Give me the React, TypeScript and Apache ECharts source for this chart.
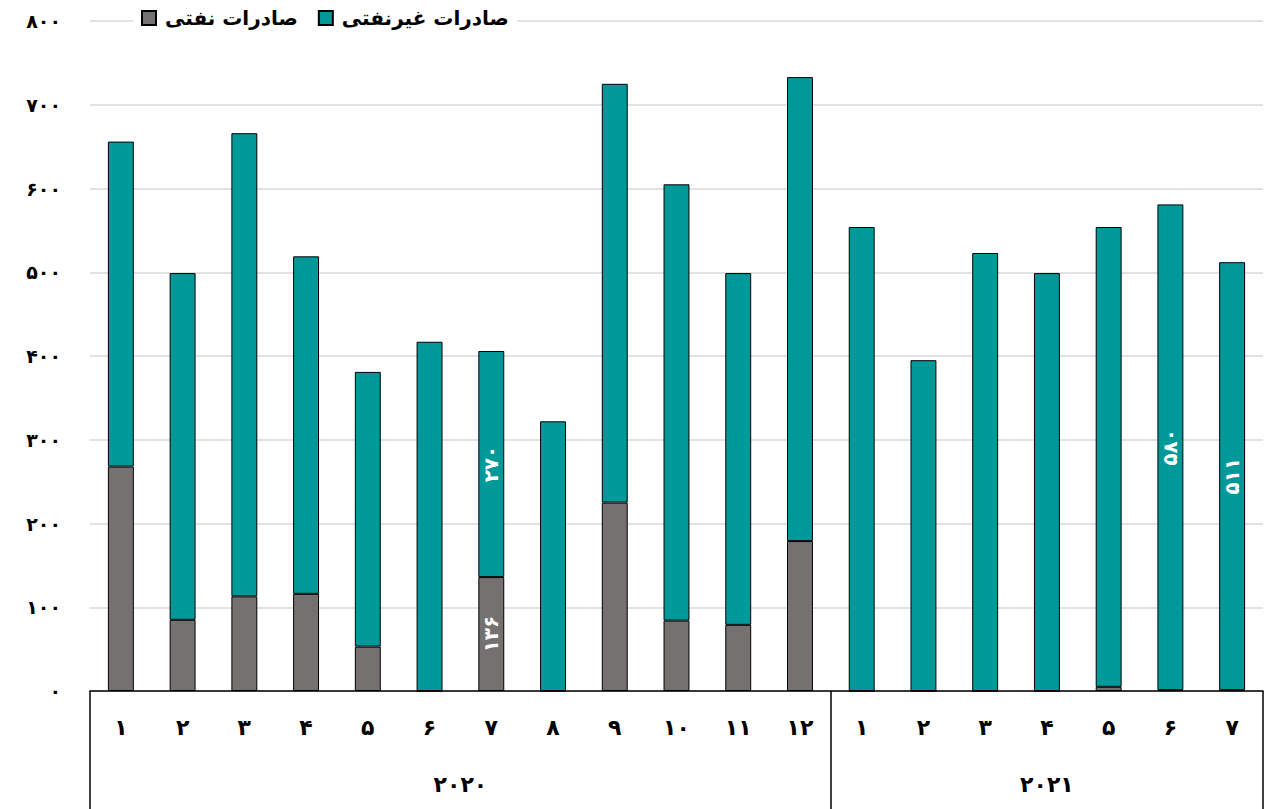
import React, { useEffect, useRef } from "react";
import * as echarts from "echarts";

const years = ["2020", "2021"];
const monthsPerYear = [12, 7];
const categories = [
  "2020-1", "2020-2", "2020-3", "2020-4", "2020-5", "2020-6", "2020-7", "2020-8", "2020-9", "2020-10", "2020-11", "2020-12",
  "2021-1", "2021-2", "2021-3", "2021-4", "2021-5", "2021-6", "2021-7",
];
const oilExports = [268, 85, 113, 116, 53, 0, 136, 0, 225, 84, 79, 179, 0, 0, 0, 0, 5, 1, 1];
const nonOilExports = [388, 414, 553, 403, 328, 417, 270, 322, 500, 521, 420, 554, 554, 395, 523, 499, 549, 580, 511];
const labelledOil = [6];
const labelledNonOil = [6, 17, 18];
const seriesNames = ["صادرات نفتی", "صادرات غیرنفتی"];
const yTicks = [0, 100, 200, 300, 400, 500, 600, 700, 800];

const fa = (v: string | number) => String(v).replace(/\d/g, (d) => "۰۱۲۳۴۵۶۷۸۹"[+d]);
const FONT = "DejaVu Sans";

export default function App() {
  const ref = useRef<HTMLDivElement>(null);
  useEffect(() => {
    if (!ref.current) return;
    const chart = echarts.init(ref.current, null, { renderer: "svg" });
    const barLabel = {
      show: true,
      position: "inside",
      rotate: 90,
      color: "#ffffff",
      fontFamily: FONT,
      fontWeight: "bold",
      fontSize: 20,
      formatter: (p: any) => fa(p.value),
    };
    const mk = (arr: number[], labelled: number[]) =>
      arr.map((v, i) => (labelled.includes(i) ? { value: v, label: barLabel } : v));
    const boundaries: number[] = [0];
    const centers: number[] = [];
    let acc = 0;
    monthsPerYear.forEach((n) => {
      centers.push(acc + n / 2);
      acc += n;
      boundaries.push(acc);
    });
    chart.setOption({
      animation: false,
      backgroundColor: "#ffffff",
      textStyle: { fontFamily: FONT },
      legend: {
        left: 133,
        top: 5,
        itemWidth: 14,
        itemHeight: 14,
        itemGap: 20,
        icon: "rect",
        backgroundColor: "#ffffff",
        padding: [3, 8],
        textStyle: { fontFamily: FONT, fontWeight: "bold", fontSize: 20, color: "#000", padding: [0, 0, 0, 4] },
        data: seriesNames,
      },
      grid: { left: 90, right: 11, top: 21, bottom: 118, containLabel: false },
      xAxis: [
        {
          type: "category",
          data: categories,
          axisLine: { lineStyle: { color: "#000", width: 1.5 } },
          axisTick: { show: false },
          axisLabel: {
            formatter: (v: string) => fa(v.split("-")[1]),
            fontFamily: FONT,
            fontWeight: "bold",
            fontSize: 22,
            color: "#000",
            margin: 25,
          },
        },
        {
          type: "value",
          min: 0,
          max: categories.length,
          position: "bottom",
          axisLine: { show: false },
          splitLine: { show: false },
          axisTick: {
            show: true,
            customValues: boundaries,
            length: 130,
            lineStyle: { color: "#000", width: 1.5 },
          },
          axisLabel: {
            customValues: centers,
            formatter: (v: number) => fa(years[centers.indexOf(v)] ?? ""),
            fontFamily: FONT,
            fontWeight: "bold",
            fontSize: 22,
            color: "#000",
            margin: 82,
          },
        },
      ],
      yAxis: {
        type: "value",
        min: yTicks[0],
        max: yTicks[yTicks.length - 1],
        interval: 100,
        axisLine: { show: false },
        axisTick: { show: false },
        splitLine: { lineStyle: { color: "#d9d9d9", width: 1.5 } },
        axisLabel: {
          formatter: (v: number) => fa(v),
          fontFamily: FONT,
          fontWeight: "bold",
          fontSize: 19,
          color: "#000",
          margin: 29,
        },
      },
      series: [
        {
          name: seriesNames[0],
          type: "bar",
          stack: "total",
          barWidth: "42%",
          data: mk(oilExports, labelledOil),
          itemStyle: { color: "#767171", borderColor: "#000", borderWidth: 1 },
        },
        {
          name: seriesNames[1],
          type: "bar",
          stack: "total",
          barWidth: "42%",
          data: mk(nonOilExports, labelledNonOil),
          itemStyle: { color: "#009999", borderColor: "#000", borderWidth: 1 },
        },
      ],
    });
    return () => chart.dispose();
  }, []);
  return <div ref={ref} style={{ width: 1274, height: 809, position: "absolute", left: 0, top: 0 }} />;
}
